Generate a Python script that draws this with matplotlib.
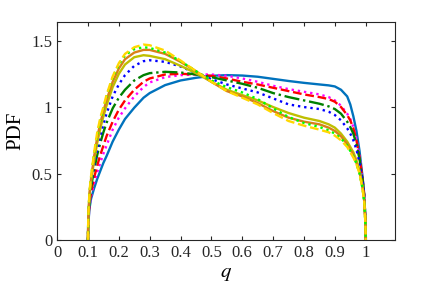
import numpy as np
import matplotlib
matplotlib.use('Agg')
import matplotlib.pyplot as plt

plt.rcParams['font.family'] = ['Liberation Serif', 'DejaVu Serif']
plt.rcParams['mathtext.fontset'] = 'stix'

q = [0.1, 0.101, 0.105, 0.11, 0.12, 0.13, 0.14, 0.15, 0.16, 0.18, 0.2, 0.22, 0.25, 0.28, 0.3,
     0.35, 0.4, 0.45, 0.5, 0.55, 0.6, 0.65, 0.7, 0.75, 0.8, 0.85, 0.88, 0.9, 0.92, 0.94, 0.95,
     0.96, 0.97, 0.98, 0.99, 0.995, 0.999, 1.0]

pdf_blue = [0, 0.12, 0.24, 0.31, 0.39, 0.46, 0.52, 0.58, 0.63, 0.74, 0.83, 0.91, 0.995, 1.07, 1.105,
            1.165, 1.20, 1.22, 1.235, 1.24, 1.237, 1.228, 1.212, 1.196, 1.182, 1.17, 1.163, 1.155, 1.13, 1.08, 1.02,
            0.93, 0.82, 0.67, 0.47, 0.35, 0.16, 0]
pdf_magenta = [0, 0.13, 0.26, 0.33, 0.43, 0.51, 0.58, 0.65, 0.71, 0.83, 0.92, 0.99, 1.08, 1.15, 1.185,
               1.225, 1.24, 1.245, 1.245, 1.235, 1.215, 1.19, 1.16, 1.135, 1.115, 1.095, 1.075, 1.05, 1.01, 0.95, 0.91,
               0.85, 0.76, 0.63, 0.46, 0.34, 0.16, 0]
pdf_red = [0, 0.14, 0.28, 0.36, 0.47, 0.56, 0.64, 0.71, 0.78, 0.89, 0.98, 1.05, 1.13, 1.19, 1.215,
           1.245, 1.25, 1.245, 1.235, 1.215, 1.19, 1.17, 1.145, 1.12, 1.095, 1.075, 1.06, 1.04, 1.0, 0.94, 0.9,
           0.84, 0.75, 0.62, 0.46, 0.34, 0.16, 0]
pdf_green = [0, 0.15, 0.31, 0.40, 0.53, 0.64, 0.73, 0.81, 0.88, 0.99, 1.07, 1.13, 1.2, 1.24, 1.255,
             1.265, 1.26, 1.245, 1.225, 1.2, 1.175, 1.145, 1.105, 1.075, 1.05, 1.025, 1.005, 0.985, 0.95, 0.89, 0.85,
             0.80, 0.72, 0.61, 0.45, 0.34, 0.16, 0]
pdf_bluedot = [0, 0.16, 0.32, 0.42, 0.56, 0.68, 0.78, 0.87, 0.95, 1.08, 1.17, 1.24, 1.31, 1.345, 1.352,
               1.34, 1.305, 1.255, 1.21, 1.17, 1.14, 1.11, 1.065, 1.02, 1.0, 0.985, 0.965, 0.94, 0.9, 0.84, 0.8,
               0.75, 0.68, 0.58, 0.44, 0.33, 0.15, 0]
pdf_olive = [0, 0.17, 0.34, 0.44, 0.6, 0.73, 0.84, 0.93, 1.01, 1.15, 1.25, 1.32, 1.375, 1.39, 1.385,
             1.36, 1.31, 1.255, 1.19, 1.13, 1.09, 1.05, 1.0, 0.955, 0.92, 0.895, 0.87, 0.845, 0.8, 0.74, 0.7,
             0.66, 0.6, 0.52, 0.4, 0.3, 0.14, 0]
pdf_orange = [0, 0.17, 0.35, 0.46, 0.63, 0.77, 0.88, 0.97, 1.05, 1.19, 1.29, 1.36, 1.41, 1.43, 1.43,
              1.40, 1.34, 1.27, 1.19, 1.12, 1.08, 1.03, 0.97, 0.92, 0.89, 0.87, 0.845, 0.82, 0.78, 0.72, 0.68,
              0.64, 0.58, 0.51, 0.39, 0.3, 0.14, 0]
pdf_lime = [0, 0.18, 0.36, 0.47, 0.65, 0.79, 0.9, 0.99, 1.08, 1.22, 1.32, 1.39, 1.435, 1.45, 1.445,
            1.41, 1.345, 1.27, 1.2, 1.15, 1.11, 1.06, 0.99, 0.925, 0.88, 0.85, 0.825, 0.80, 0.765, 0.71, 0.67,
            0.63, 0.575, 0.5, 0.385, 0.29, 0.13, 0]
pdf_yellow = [0, 0.18, 0.37, 0.48, 0.66, 0.81, 0.92, 1.0, 1.09, 1.23, 1.33, 1.4, 1.45, 1.47, 1.465,
              1.425, 1.35, 1.27, 1.19, 1.12, 1.07, 1.02, 0.955, 0.895, 0.86, 0.83, 0.81, 0.785, 0.75, 0.7, 0.66,
              0.62, 0.57, 0.5, 0.38, 0.29, 0.13, 0]

series = [
    (pdf_blue, '#0072BD', '-'),
    (pdf_magenta, '#FF00FF', ':'),
    (pdf_red, '#FF0000', '--'),
    (pdf_green, '#008000', '-.'),
    (pdf_bluedot, '#0000FF', ':'),
    (pdf_olive, '#BFBF00', '-'),
    (pdf_orange, '#D98019', '-'),
    (pdf_lime, '#00FF00', ':'),
    (pdf_yellow, '#FFD700', '--'),
]

fig = plt.figure(figsize=(4.36, 2.93), dpi=100)
ax = fig.add_axes([0.131, 0.181, 0.775, 0.744])

for vals, col, ls in series:
    ax.plot(q, vals, color=col, linestyle=ls, linewidth=1.7)

ax.set_xlim(0, 1.095)
ax.set_ylim(0, 1.64)
ax.set_xticks(np.arange(0, 1.01, 0.1))
ax.set_xticklabels(['0', '0.1', '0.2', '0.3', '0.4', '0.5', '0.6', '0.7', '0.8', '0.9', '1'])
ax.set_yticks([0, 0.5, 1, 1.5])
ax.set_yticklabels(['0', '0.5', '1', '1.5'])
ax.tick_params(direction='in', length=3, width=0.8, colors='#262626', labelsize=12,
               top=True, right=True)
for s in ax.spines.values():
    s.set_color('#262626')
    s.set_linewidth(0.8)
ax.set_xlabel('$q$', fontsize=15, labelpad=2)
ax.set_ylabel('PDF', fontsize=15, labelpad=4)

fig.savefig('out.png', dpi=100)
